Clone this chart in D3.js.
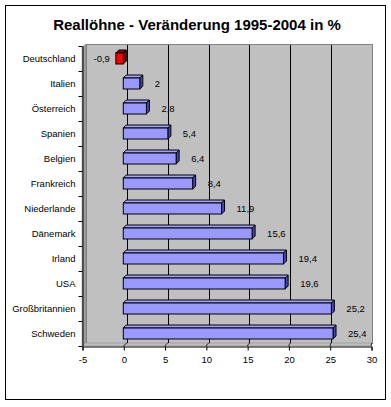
<!DOCTYPE html>
<html>
<head>
<meta charset="utf-8">
<script src="https://cdn.jsdelivr.net/npm/d3@7"></script>
<style>
  body { margin: 0; background: #fff; }
  svg { display: block; font-family: "Liberation Sans", Arial, sans-serif; }
</style>
</head>
<body>
<svg id="chart" width="391" height="407"></svg>
<script>
// --- DATA ---
const countries = ["Deutschland", "Italien", "Österreich", "Spanien", "Belgien", "Frankreich",
  "Niederlande", "Dänemark", "Irland", "USA", "Großbritannien", "Schweden"];
const values = [-0.9, 2, 2.8, 5.4, 6.4, 8.4, 11.9, 15.6, 19.4, 19.6, 25.2, 25.4];
const valueLabels = ["-0,9", "2", "2,8", "5,4", "6,4", "8,4", "11,9", "15,6", "19,4", "19,6", "25,2", "25,4"];
const xTicks = [-5, 0, 5, 10, 15, 20, 25, 30];
const title = "Reallöhne - Veränderung 1995-2004 in %";

// --- LAYOUT ---
const FRONT = { left: 82, right: 371, top: 46, bottom: 346 };
const BACK = { left: 86, right: 372, top: 44, bottom: 343 };
const DEPTH = 3;      // bar 3d offset
const BAR_H = 11;

const svg = d3.select("#chart");

const x = d3.scaleLinear().domain([-5, 30]).range([FRONT.left, FRONT.right]);
const xBack = d3.scaleLinear().domain([-5, 30]).range([BACK.left, BACK.right]);
const y = d3.scaleBand().domain(countries).range([FRONT.top, FRONT.bottom]);

// outer frame
svg.append("rect").attr("x", 5.5).attr("y", 5.5).attr("width", 380).attr("height", 394)
  .attr("fill", "#fff").attr("stroke", "#000");

// title
svg.append("text").attr("x", 197).attr("y", 30).attr("text-anchor", "middle")
  .attr("font-size", 15).attr("font-weight", "bold").text(title);

// --- WALLS ---
// back wall
svg.append("rect").attr("x", BACK.left + 0.5).attr("y", BACK.top + 0.5)
  .attr("width", BACK.right - BACK.left).attr("height", BACK.bottom - BACK.top)
  .attr("fill", "#c0c0c0").attr("stroke", "#808080");
// left side wall
svg.append("polygon")
  .attr("points", [[FRONT.left, FRONT.top + 1], [BACK.left, BACK.top], [BACK.left, BACK.bottom], [FRONT.left, FRONT.bottom]].join(" "))
  .attr("fill", "#a0a0a0").attr("stroke", "#808080").attr("stroke-width", 0.5);
// floor
svg.append("polygon")
  .attr("points", [[FRONT.left, FRONT.bottom], [BACK.left, BACK.bottom], [BACK.right, BACK.bottom], [FRONT.right, FRONT.bottom]].join(" "))
  .attr("fill", "#c0c0c0").attr("stroke", "#808080").attr("stroke-width", 0.5);

// gridlines on back wall
svg.append("g").selectAll("line").data(xTicks.filter(d => d > -5 && d < 30)).join("line")
  .attr("x1", d => Math.round(xBack(d)) + 0.5).attr("x2", d => Math.round(xBack(d)) + 0.5)
  .attr("y1", BACK.top + 1).attr("y2", BACK.bottom)
  .attr("stroke", "#000");

// gridlines across floor
svg.append("g").selectAll("line").data(xTicks.filter(d => d > -5)).join("line")
  .attr("x1", d => xBack(d)).attr("x2", d => x(d))
  .attr("y1", BACK.bottom).attr("y2", FRONT.bottom)
  .attr("stroke", "#000").attr("stroke-width", 0.8);

// --- AXES ---
const xAxis = d3.axisBottom(x).tickValues(xTicks).tickFormat(d => String(d)).tickSize(4).tickPadding(6);
const gx = svg.append("g").attr("transform", `translate(0.5,${FRONT.bottom + 0.5})`).call(xAxis);
gx.selectAll("text").attr("font-size", 9.5).attr("font-family", "Liberation Sans, Arial").attr("fill", "#000");
gx.select(".domain").attr("stroke", "#000");

const yAxis = d3.axisLeft(y).tickSize(0).tickPadding(7);
const gy = svg.append("g").attr("transform", `translate(${FRONT.left + 0.5},0)`).call(yAxis);
gy.select(".domain").attr("stroke", "#000");
gy.selectAll("text").attr("font-size", 9.5).attr("font-family", "Liberation Sans, Arial").attr("fill", "#000");
// ticks at band boundaries
gy.append("g").selectAll("line").data(d3.range(countries.length + 1)).join("line")
  .attr("x1", -4).attr("x2", 0)
  .attr("y1", i => Math.round(FRONT.top + i * y.step()) + 0.5)
  .attr("y2", i => Math.round(FRONT.top + i * y.step()) + 0.5)
  .attr("stroke", "#000");

// --- BARS ---
const bars = svg.append("g").selectAll("g").data(countries.map((c, i) => ({ c, v: values[i], label: valueLabels[i] })))
  .join("g");

bars.each(function(d) {
  const g = d3.select(this);
  const x0 = x(Math.min(0, d.v)), x1 = x(Math.max(0, d.v));
  const yc = y(d.c) + y.bandwidth() / 2;
  const yt = yc - BAR_H / 2, yb = yc + BAR_H / 2;
  const neg = d.v < 0;
  const front = neg ? "#ff0000" : "#9999ff";
  const top = neg ? "#990000" : "#a3a3ff";
  const side = neg ? "#800000" : "#4646b4";

  g.append("polygon")
    .attr("points", [[x0, yt], [x0 + DEPTH, yt - DEPTH], [x1 + DEPTH, yt - DEPTH], [x1, yt]].join(" "))
    .attr("fill", top).attr("stroke", "#000").attr("stroke-width", 1).attr("stroke-linejoin", "round");
  g.append("polygon")
    .attr("points", [[x1, yt], [x1 + DEPTH, yt - DEPTH], [x1 + DEPTH, yb - DEPTH], [x1, yb]].join(" "))
    .attr("fill", side).attr("stroke", "#000").attr("stroke-width", 1).attr("stroke-linejoin", "round");
  g.append("rect").attr("x", x0).attr("y", yt).attr("width", x1 - x0).attr("height", BAR_H)
    .attr("fill", front).attr("stroke", "#000").attr("stroke-width", 1);

  g.append("text")
    .attr("x", neg ? x0 - 6 : x1 + DEPTH + 12)
    .attr("y", yc + 3.5)
    .attr("text-anchor", neg ? "end" : "start")
    .attr("font-size", 9.5)
    .text(d.label);
});
</script>
</body>
</html>
